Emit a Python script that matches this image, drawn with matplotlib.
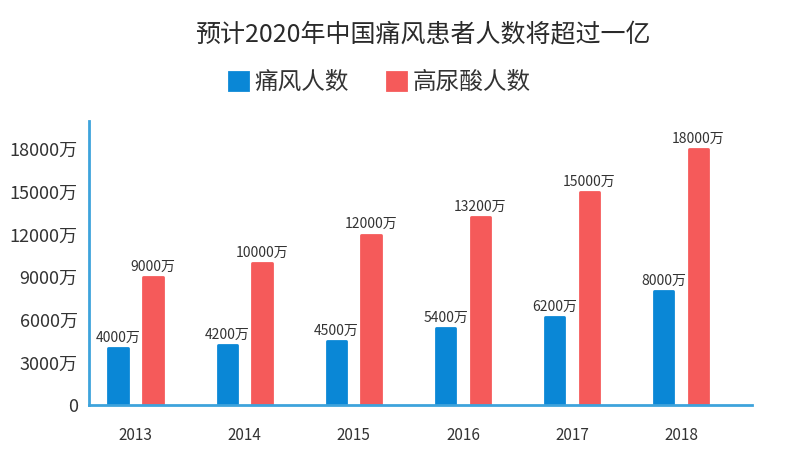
import numpy as np
import matplotlib
matplotlib.use("agg")
import matplotlib.pyplot as plt

plt.rcParams['font.family'] = ['Noto Sans CJK SC', 'DejaVu Sans']

years = ["2013", "2014", "2015", "2016", "2017", "2018"]
gout = [4000, 4200, 4500, 5400, 6200, 8000]
hua = [9000, 10000, 12000, 13200, 15000, 18000]
yticks = [0, 3000, 6000, 9000, 12000, 15000, 18000]

blue = "#0a87d6"
red = "#f55a5a"
axis_col = "#3ea3dc"
txt = "#333333"

fig = plt.figure(figsize=(8, 4.65), dpi=100)
ax = fig.add_axes([0.111, 0.129, 0.829, 0.611])

x = np.arange(len(years))
w = 0.18
off = 0.16
b1 = ax.bar(x - off, gout, w, color=blue, edgecolor=blue, linewidth=2,
            joinstyle='round', label="痛风人数")
b2 = ax.bar(x + off, hua, w, color=red, edgecolor=red, linewidth=2,
            joinstyle='round', label="高尿酸人数")

for xi, v in zip(x - off, gout):
    ax.text(xi, v + 250, f"{v}万", ha='center', va='bottom', fontsize=10, color=txt)
for xi, v in zip(x + off, hua):
    ax.text(xi, v + 250, f"{v}万", ha='center', va='bottom', fontsize=10, color=txt)

ax.set_xlim(-0.43, 5.65)
ax.set_ylim(0, 20000)
ax.set_yticks(yticks)
ax.set_yticklabels([("0" if t == 0 else f"{t}万") for t in yticks], fontsize=13, color=txt)
ax.set_xticks(x)
ax.set_xticklabels(years, fontsize=11, color=txt)
ax.tick_params(axis='both', length=0)
ax.tick_params(axis='x', pad=16)
ax.tick_params(axis='y', pad=8)

for s in ['top', 'right']:
    ax.spines[s].set_visible(False)
for s in ['left', 'bottom']:
    ax.spines[s].set_color(axis_col)
    ax.spines[s].set_linewidth(2)

fig.text(0.528, 0.925, "预计2020年中国痛风患者人数将超过一亿", ha='center', va='center',
         fontsize=18, color="#2a2a2a")
fig.legend(handles=[b1, b2], loc='center', bbox_to_anchor=(0.475, 0.823), ncol=2,
           frameon=False, fontsize=17, handlelength=0.8, handleheight=0.8,
           handletextpad=0.3, columnspacing=1.6, labelcolor=txt)

fig.savefig("out.png", dpi=100)
